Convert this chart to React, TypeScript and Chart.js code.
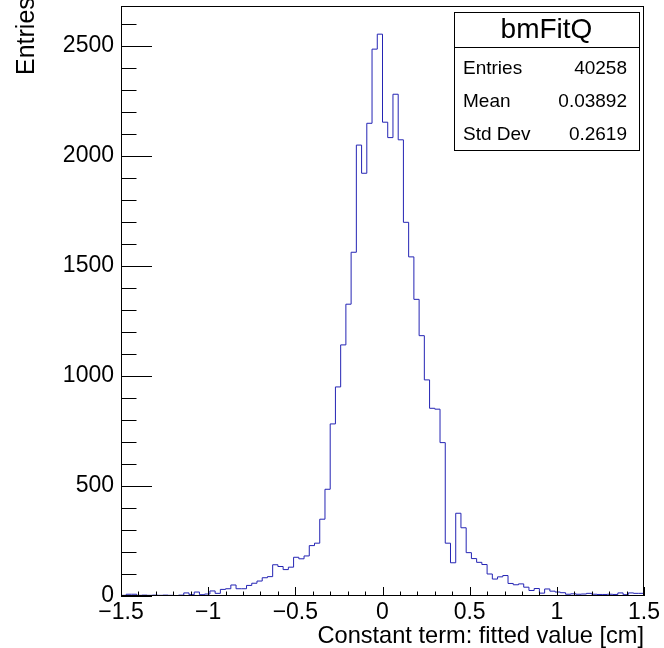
import React, { useEffect, useRef } from 'react';
import { Chart, registerables } from 'chart.js';

Chart.register(...registerables);

// ---- data ----
const BIN_LOW = -1.5;
const BIN_HIGH = 1.5;
const BIN_COUNTS = [
  4, 3, 8, 8, 3, 4, 3, 4, 3, 4,
  3, 2, 4, 14, 6, 18, 6, 9, 23, 12,
  30, 33, 50, 33, 33, 48, 58, 68, 83, 88,
  142, 134, 120, 131, 176, 169, 182, 229, 240, 349,
  485, 782, 950, 1141, 1326, 1562, 2049, 1921, 2148, 2485,
  2553, 2153, 2083, 2280, 2073, 1698, 1541, 1348, 1183, 982,
  853, 849, 697, 240, 151, 376, 310, 197, 170, 153,
  143, 100, 77, 87, 93, 57, 51, 55, 40, 25,
  34, 13, 32, 22, 18, 15, 8, 10, 8, 9,
  12, 8, 7, 7, 8, 7, 14, 6, 14, 12,
];
const X_TICKS = [-1.5, -1, -0.5, 0, 0.5, 1, 1.5];
const X_MINOR_PER_MAJOR = 5;
const Y_TICKS = [0, 500, 1000, 1500, 2000, 2500];
const Y_MINOR_PER_MAJOR = 5;
const Y_MAX = 2681;
const X_TITLE = 'Constant term: fitted value [cm]';
const Y_TITLE = 'Entries';
const STATS_TITLE = 'bmFitQ';
const STATS_LABELS = ['Entries', 'Mean', 'Std Dev'];
const STATS_VALUES = ['40258', '0.03892', '0.2619'];

const FONT = "'Liberation Sans', Arial, Helvetica, sans-serif";
const LINE_COLOR = '#2424b4';

function fmt(v: number): string {
  const s = String(Math.round(v * 1000) / 1000);
  return v < 0 ? '\u2212' + s.slice(1) : s;
}

const rootPlugin = {
  id: 'rootDecor',
  afterDatasetsDraw(chart: any) {
    const { ctx, chartArea } = chart;
    const { left, right, top, bottom } = chartArea;
    const xs = chart.scales.x;
    const ys = chart.scales.y;
    ctx.save();
    ctx.strokeStyle = '#000';
    ctx.lineWidth = 1;
    // frame
    ctx.strokeRect(left + 0.5, top + 0.5, right - left - 1, bottom - top - 1);
    // x ticks
    ctx.beginPath();
    for (let i = 0; i < X_TICKS.length; i++) {
      const v = X_TICKS[i];
      const px = Math.round(xs.getPixelForValue(v)) + 0.5;
      ctx.moveTo(px, bottom);
      ctx.lineTo(px, bottom - 9);
      if (i < X_TICKS.length - 1) {
        const step = (X_TICKS[i + 1] - v) / X_MINOR_PER_MAJOR;
        for (let m = 1; m < X_MINOR_PER_MAJOR; m++) {
          const mx = Math.round(xs.getPixelForValue(v + m * step)) + 0.5;
          ctx.moveTo(mx, bottom);
          ctx.lineTo(mx, bottom - 4.5);
        }
      }
    }
    // y ticks
    const yStep = (Y_TICKS[1] - Y_TICKS[0]) / Y_MINOR_PER_MAJOR;
    for (let i = 0; i < Y_TICKS.length; i++) {
      const v = Y_TICKS[i];
      const py = Math.round(ys.getPixelForValue(v)) + 0.5;
      ctx.moveTo(left, py);
      ctx.lineTo(left + 31, py);
      for (let m = 1; m < Y_MINOR_PER_MAJOR; m++) {
        const mv = v + m * yStep;
        if (mv > Y_MAX) break;
        const my = Math.round(ys.getPixelForValue(mv)) + 0.5;
        ctx.moveTo(left, my);
        ctx.lineTo(left + 15.5, my);
      }
    }
    ctx.stroke();

    // axis titles
    ctx.fillStyle = '#000';
    ctx.font = `23.6px ${FONT}`;
    ctx.textAlign = 'right';
    ctx.textBaseline = 'alphabetic';
    ctx.fillText(X_TITLE, right, 643);
    ctx.save();
    ctx.translate(34, 75);
    ctx.rotate(-Math.PI / 2);
    ctx.textAlign = 'left';
    ctx.font = `25px ${FONT}`;
    ctx.fillText(Y_TITLE, 0, 0);
    ctx.restore();

    // stats box
    const bx = 454, by = 12, bw = 185, bh = 138, tH = 35;
    ctx.fillStyle = '#fff';
    ctx.fillRect(bx, by, bw, bh);
    ctx.strokeRect(bx + 0.5, by + 0.5, bw, bh);
    ctx.beginPath();
    ctx.moveTo(bx, by + tH + 0.5);
    ctx.lineTo(bx + bw, by + tH + 0.5);
    ctx.stroke();
    ctx.fillStyle = '#000';
    ctx.textBaseline = 'middle';
    ctx.textAlign = 'center';
    ctx.font = `28px ${FONT}`;
    ctx.fillText(STATS_TITLE, bx + bw / 2, by + tH / 2 + 1);
    ctx.font = `19px ${FONT}`;
    const rowH = 33;
    for (let i = 0; i < STATS_LABELS.length; i++) {
      const cy = by + tH + 22 + rowH * i;
      ctx.textAlign = 'left';
      ctx.fillText(STATS_LABELS[i], bx + 9, cy);
      ctx.textAlign = 'right';
      ctx.fillText(STATS_VALUES[i], bx + bw - 12, cy);
    }
    ctx.restore();
  },
};

export default function App() {
  const ref = useRef<HTMLCanvasElement | null>(null);
  useEffect(() => {
    if (!ref.current) return;
    const n = BIN_COUNTS.length;
    const w = (BIN_HIGH - BIN_LOW) / n;
    const pts: { x: number; y: number }[] = [{ x: BIN_LOW, y: 0 }];
    BIN_COUNTS.forEach((c, i) => pts.push({ x: BIN_LOW + i * w, y: c }));
    pts.push({ x: BIN_HIGH, y: BIN_COUNTS[n - 1] });
    pts.push({ x: BIN_HIGH, y: 0 });

    const chart = new Chart(ref.current, {
      type: 'line',
      data: {
        datasets: [
          {
            data: pts,
            stepped: 'after',
            borderColor: LINE_COLOR,
            borderWidth: 1,
            pointRadius: 0,
            fill: false,
          } as any,
        ],
      },
      options: {
        animation: false,
        responsive: false,
        events: [],
        layout: { padding: { top: 6, right: 20, left: 0, bottom: 0 } },
        plugins: { legend: { display: false }, tooltip: { enabled: false }, title: { display: false } },
        scales: {
          x: {
            type: 'linear',
            min: BIN_LOW,
            max: BIN_HIGH,
            grid: { display: false, drawTicks: false },
            border: { display: false },
            afterBuildTicks: (s: any) => {
              s.ticks = X_TICKS.map((v) => ({ value: v }));
            },
            afterFit: (s: any) => {
              s.height = 52;
              s.paddingLeft = 0;
              s.paddingRight = 0;
            },
            ticks: {
              autoSkip: false,
              maxRotation: 0,
              padding: 3,
              color: '#000',
              font: { family: FONT, size: 23 },
              callback: (v: any) => fmt(Number(v)),
            },
          },
          y: {
            type: 'linear',
            min: 0,
            max: Y_MAX,
            grid: { display: false, drawTicks: false },
            border: { display: false },
            afterBuildTicks: (s: any) => {
              s.ticks = Y_TICKS.map((v) => ({ value: v }));
            },
            afterFit: (s: any) => {
              s.width = 121;
              s.paddingTop = 0;
              s.paddingBottom = 0;
            },
            ticks: {
              autoSkip: false,
              padding: 7,
              color: '#000',
              font: { family: FONT, size: 23 },
              callback: (v: any) => String(v),
            },
          },
        },
      },
      plugins: [rootPlugin],
    });
    return () => chart.destroy();
  }, []);

  return (
    <div style={{ position: 'fixed', left: 0, top: 0, width: 664, height: 648, background: '#fff' }}>
      <canvas ref={ref} width={664} height={648} style={{ display: 'block', width: 664, height: 648 }} />
    </div>
  );
}
